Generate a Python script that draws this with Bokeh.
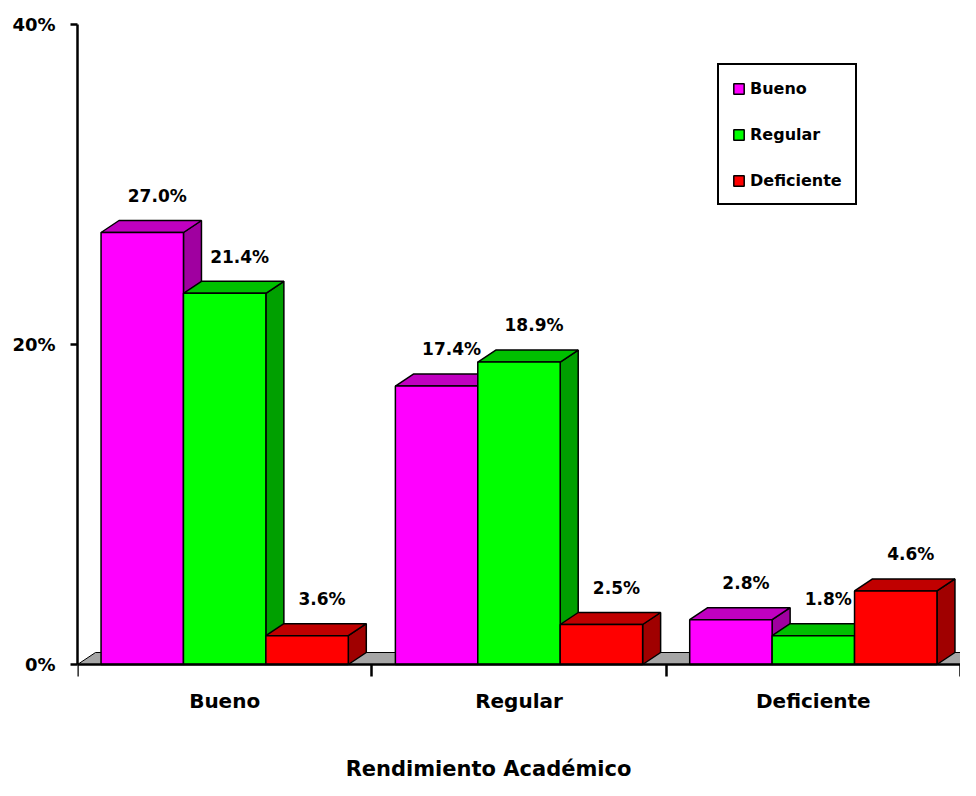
from bokeh.plotting import figure
from bokeh.models import (ColumnDataSource, FixedTicker, Legend, LegendItem, Label, Range1d)
from bokeh.core.properties import value
from bokeh.embed import file_html
from bokeh.resources import INLINE

# ---------------- data ----------------
categories = ["Bueno", "Regular", "Deficiente"]
series = ["Bueno", "Regular", "Deficiente"]
# bar heights (%) as drawn in the picture, per category
bueno_vals = [27.0, 17.4, 2.8]
regular_vals = [23.2, 18.9, 1.8]
deficiente_vals = [1.8, 2.5, 4.6]
# data labels as printed
bueno_labels = ["27.0%", "17.4%", "2.8%"]
regular_labels = ["21.4%", "18.9%", "1.8%"]
deficiente_labels = ["3.6%", "2.5%", "4.6%"]
y_ticks = [0, 20, 40]
y_tick_labels = ["0%", "20%", "40%"]
x_title = "Rendimiento Académico"

# ---------------- style ----------------
front_colors = ["#ff00ff", "#00ff00", "#ff0000"]
top_colors = ["#c000c0", "#00c000", "#c00000"]
side_colors = ["#a000a0", "#00a000", "#a00000"]
FONT = "DejaVu Sans"

W, H = 960, 780
LEFT, TOP = 77, 24
FRAME_W = W - LEFT
FRAME_H = H - TOP
Y_MAX = 40
PX_PER_PCT = 16.0
Y_MIN = Y_MAX - FRAME_H / PX_PER_PCT   # room below 0% for labels & title
n = len(categories)
PX_PER_CAT = FRAME_W / n

BAR_W = 0.28
PAD = (1 - 3 * BAR_W) / 2
DX = 18 / PX_PER_CAT           # depth offset in category units
DY = 12 / PX_PER_PCT           # depth offset in % units
LAB_DX = 15 / PX_PER_CAT
LAB_DY = 2.3
TITLE_X = (488 - LEFT) / PX_PER_CAT
TITLE_Y = -(104 / PX_PER_PCT)

vals = [bueno_vals, regular_vals, deficiente_vals]
labs = [bueno_labels, regular_labels, deficiente_labels]

front = dict(left=[], right=[], top=[], bottom=[], color=[])
tops = dict(xs=[], ys=[], color=[])
sides = dict(xs=[], ys=[], color=[])
text = dict(x=[], y=[], text=[])
for g in range(n):
    for s in range(len(series)):
        h = vals[s][g]
        x0 = g + PAD + s * BAR_W
        x1 = x0 + BAR_W
        front["left"].append(x0); front["right"].append(x1)
        front["bottom"].append(0); front["top"].append(h)
        front["color"].append(front_colors[s])
        tops["xs"].append([x0, x1, x1 + DX, x0 + DX])
        tops["ys"].append([h, h, h + DY, h + DY])
        tops["color"].append(top_colors[s])
        sides["xs"].append([x1, x1 + DX, x1 + DX, x1])
        sides["ys"].append([0, DY, h + DY, h])
        sides["color"].append(side_colors[s])
        text["x"].append((x0 + x1) / 2 + LAB_DX)
        text["y"].append(h + LAB_DY)
        text["text"].append(labs[s][g])

p = figure(width=W, height=H, output_backend="svg", toolbar_location=None,
           x_range=Range1d(0, n), y_range=Range1d(Y_MIN, Y_MAX),
           min_border_left=LEFT, min_border_right=0, min_border_top=TOP,
           min_border_bottom=0)
p.outline_line_color = None
p.xgrid.visible = False
p.ygrid.visible = False

# floor
p.patch([0, n, n + DX, DX], [0, 0, DY, DY], fill_color="#a6a6a6",
        line_color="black", line_width=1)

p.patches("xs", "ys", source=ColumnDataSource(sides), fill_color="color",
          line_color="black", line_width=1.5)
p.patches("xs", "ys", source=ColumnDataSource(tops), fill_color="color",
          line_color="black", line_width=1.5)
front_r = p.quad(left="left", right="right", top="top", bottom="bottom",
                 source=ColumnDataSource(front), fill_color="color",
                 line_color="black", line_width=1.5)

p.text("x", "y", text="text", source=ColumnDataSource(text),
       text_font=value(FONT), text_font_style="bold", text_font_size="17px",
       text_align="center", text_baseline="middle", text_color="black")

# x axis, drawn at 0 %
xa = p.xaxis[0]
xa.fixed_location = 0
xa.ticker = FixedTicker(ticks=[i + 0.5 for i in range(n)], minor_ticks=list(range(n + 1)))
xa.major_label_overrides = {i + 0.5: c for i, c in enumerate(categories)}
xa.major_tick_out = 0
xa.major_tick_in = 0
xa.minor_tick_out = 12
xa.minor_tick_in = 0
xa.minor_tick_line_width = 2.5
xa.axis_line_width = 2.5
xa.major_label_standoff = 12
xa.major_label_text_font = FONT
xa.major_label_text_font_style = "bold"
xa.major_label_text_font_size = "20px"
xa.major_label_text_color = "black"

ya = p.yaxis[0]
ya.bounds = (0, Y_MAX)
ya.ticker = FixedTicker(ticks=y_ticks, minor_ticks=[])
ya.major_label_overrides = dict(zip(y_ticks, y_tick_labels))
ya.major_tick_out = 7
ya.major_tick_in = 0
ya.major_tick_line_width = 2.5
ya.minor_tick_out = 0
ya.minor_tick_in = 0
ya.axis_line_width = 2.5
ya.major_label_standoff = 15
ya.major_label_text_font = FONT
ya.major_label_text_font_style = "bold"
ya.major_label_text_font_size = "18px"
ya.major_label_text_color = "black"

# axis title
p.add_layout(Label(x=TITLE_X, y=TITLE_Y, text=x_title, text_align="center",
                   text_baseline="alphabetic", text_font=FONT, text_font_style="bold",
                   text_font_size="21px", text_color="black"))

# legend
items = [LegendItem(label=series[s], renderers=[front_r], index=s) for s in range(len(series))]
legend = Legend(items=items, location=(717 - LEFT, H - 205), orientation="vertical",
                glyph_width=13, glyph_height=13, label_height=20, label_width=92,
                spacing=26, padding=13, label_standoff=5, margin=0,
                border_line_color="black", border_line_width=2, border_line_alpha=1,
                background_fill_color="white", background_fill_alpha=1,
                label_text_font=FONT, label_text_font_style="bold",
                label_text_font_size="16px", label_text_color="black")
p.add_layout(legend)

open("out.html", "w").write(file_html(p, INLINE))
